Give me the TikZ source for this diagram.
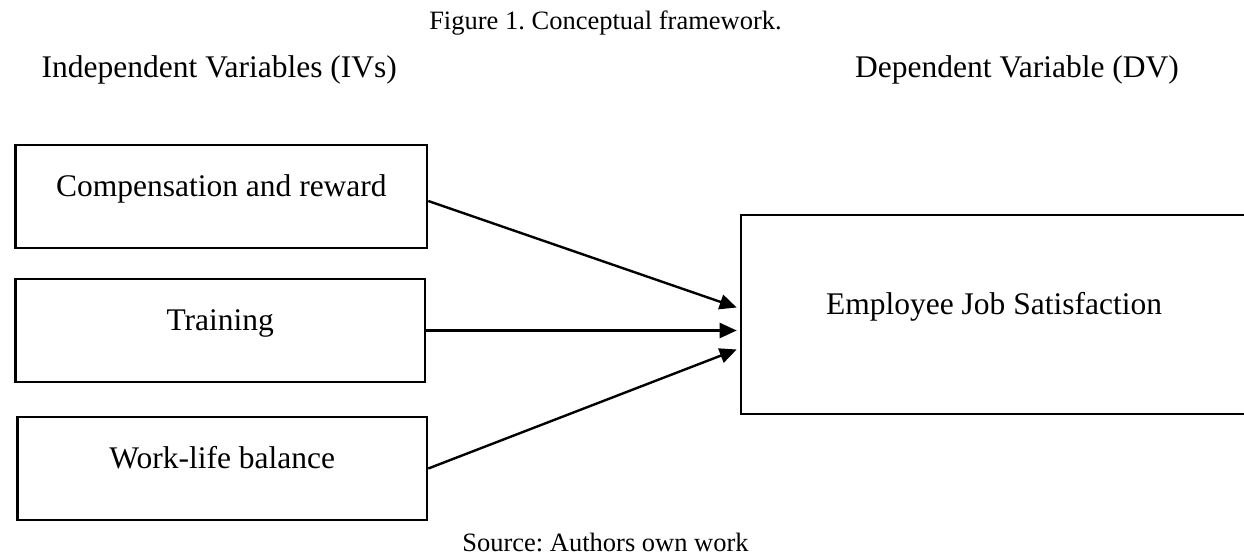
\documentclass[tikz,border=0pt]{standalone}
\usepackage{fontspec}
\setmainfont{Liberation Serif}
\usetikzlibrary{arrows.meta}
\begin{document}
\frenchspacing
\begin{tikzpicture}[x=1pt,y=1pt,
  bigtext/.style={font=\fontsize{31.5}{36}\selectfont},
  smalltext/.style={font=\fontsize{26.5}{30}\selectfont},
  varbox/.style={draw=black, line width=2.6pt, inner sep=0pt, bigtext,
    text height=25pt, text depth=25pt, align=center},
  conn/.style={line width=2.4pt, -{Triangle[length=17pt,width=15pt]}}
]
\useasboundingbox (0,0) rectangle (1244,555);
% title and headings
\node[smalltext, anchor=base] (title) at (605.5,525) {Figure 1. Conceptual framework.};
\node[bigtext, anchor=base west, inner sep=0pt] (iv) at (41.5,477.5) {Independent Variables (IVs)};
\node[bigtext, anchor=base west, inner sep=0pt] (dvh) at (855,477.5) {Dependent Variable (DV)};
% boxes
\node[varbox, minimum width=411.3pt, minimum height=103pt] (comp) at (221.35,358.5) {Compensation and reward};
\node[varbox, minimum width=409.5pt, minimum height=103pt] (train) at (220.25,224.5) {Training};
\node[varbox, minimum width=409.5pt, minimum height=103pt] (wlb) at (222.25,86.5) {Work-life balance};
\node[varbox, minimum width=506pt, minimum height=199pt] (dv) at (994,240.5) {Employee Job Satisfaction};
% end points of arrows at the DV box
\coordinate (e1) at ([xshift=-3pt,yshift=7pt]dv.west);
\coordinate (e2) at ([xshift=-3pt,yshift=-16pt]dv.west);
\coordinate (e3) at ([xshift=-3pt,yshift=-35pt]dv.west);
\draw[conn] ([yshift=-4.5pt]comp.east) -- (e1);
\draw[conn] (train.east) -- (e2);
\draw[conn] (wlb.east) -- (e3);
% source
\node[smalltext, anchor=base] (src) at (605.5,4) {Source: Authors own work};
\end{tikzpicture}
\end{document}
